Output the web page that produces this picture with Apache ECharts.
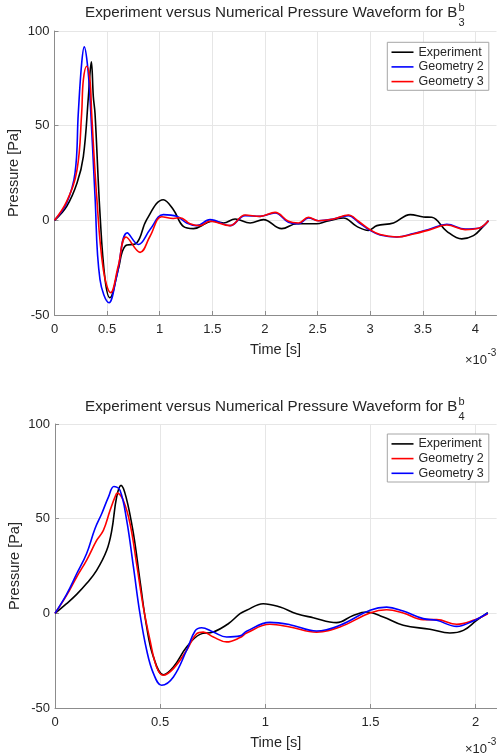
<!DOCTYPE html>
<html>
<head>
<meta charset="utf-8">
<script src="https://cdn.jsdelivr.net/npm/echarts@6/dist/echarts.min.js"></script>
<style>
html,body{margin:0;padding:0;background:#fff;}
#chart{width:497px;height:753px;}
</style>
</head>
<body>
<div id="chart"></div>
<script>
// ---- Data (time in units of 1e-3 s, pressure in Pa) ----
const topXTicks = [0, 0.5, 1, 1.5, 2, 2.5, 3, 3.5, 4];
const bottomXTicks = [0, 0.5, 1, 1.5, 2];
const seriesNames = ['Experiment', 'Geometry 2', 'Geometry 3'];

// Top panel (B3b)
const topExpT = [0, 0.116, 0.214, 0.274, 0.322, 0.337, 0.35, 0.369, 0.385, 0.432, 0.48, 0.527, 0.607, 0.67, 0.781, 0.876, 1.034, 1.13, 1.224, 1.32, 1.446, 1.5, 1.606, 1.716, 1.859, 1.985, 2.159, 2.302, 2.492, 2.587, 2.745, 2.872, 2.983, 3.063, 3.221, 3.38, 3.506, 3.585, 3.728, 3.87, 3.981, 4.061, 4.124];
const topExpP = [0, 7.4, 19.7, 33.7, 65.3, 77.6, 83.7, 65.3, 56.5, 3.8, -31, -40.9, -25.6, -13.7, -12, 0.4, 10.9, 5.6, -3.2, -4.4, -1.4, -0.5, -1.4, 0.7, -1.4, 0.4, -4.4, -1.8, -1.8, -0.5, 1.2, -3.2, -5.3, -2.8, -1.4, 3, 1.8, 1.6, -5.8, -9.8, -8.1, -4, -0.2];

const topG2T = [0, 0.116, 0.195, 0.226, 0.258, 0.283, 0.312, 0.337, 0.385, 0.432, 0.518, 0.591, 0.692, 0.797, 0.908, 1.034, 1.161, 1.256, 1.351, 1.478, 1.668, 1.811, 1.954, 2.096, 2.223, 2.318, 2.413, 2.508, 2.65, 2.792, 2.888, 2.998, 3.094, 3.252, 3.411, 3.569, 3.728, 3.902, 4.029, 4.124];
const topG2P = [0, 9.2, 24.9, 56.5, 82.8, 91.6, 82.8, 65.3, 12.6, -31.2, -43.5, -29.5, -6.6, -12.8, -4.9, 3, 2.1, -1.4, -2.8, 0.4, -2.8, 2.5, 2.1, 3.9, -1, -1.8, 1.2, -0.2, 0.7, 2.5, -1, -5.3, -7.7, -8.8, -7, -4.6, -2.1, -4.6, -4.2, -0.2];

const topG3T = [0, 0.116, 0.214, 0.258, 0.274, 0.306, 0.337, 0.353, 0.401, 0.464, 0.534, 0.607, 0.68, 0.813, 0.908, 1.019, 1.13, 1.193, 1.288, 1.383, 1.478, 1.668, 1.811, 1.954, 2.096, 2.223, 2.318, 2.413, 2.508, 2.65, 2.792, 2.888, 2.998, 3.094, 3.252, 3.411, 3.569, 3.728, 3.902, 4.029, 4.124];
const topG3P = [0, 10, 26.7, 56.5, 74.1, 81.4, 74.1, 56.5, 12.6, -26, -38.2, -23.9, -8.8, -16.9, -8.4, 1.9, 1, 1.4, -1.8, -2.8, -0.5, -2.8, 2.8, 2.1, 4.2, -0.5, -1.4, 1.6, -0.2, 0.7, 2.8, -0.5, -4.9, -7.5, -8.8, -7.2, -4.9, -2.5, -4.9, -4.2, -0.2];

// Bottom panel (B4b)
const botExpT = [0, 0.055, 0.103, 0.15, 0.198, 0.246, 0.27, 0.293, 0.314, 0.338, 0.373, 0.404, 0.436, 0.468, 0.515, 0.563, 0.626, 0.689, 0.753, 0.824, 0.88, 0.911, 0.99, 1.07, 1.149, 1.228, 1.339, 1.418, 1.482, 1.561, 1.656, 1.783, 1.878, 1.942, 2.005, 2.058];
const botExpP = [0, 5.1, 10, 15.7, 22.7, 33.3, 43.8, 61.4, 67.6, 61.4, 42.1, 17.4, -7.2, -23, -32.4, -28.3, -17.8, -11.1, -9.9, -5.5, -0.2, 1.6, 5.1, 3.3, -0.2, -2.3, -4.9, -1.1, 0.7, -1.9, -6.3, -8.4, -10.4, -9, -3.7, 0.4];

const botG2T = [0, 0.055, 0.103, 0.15, 0.198, 0.23, 0.262, 0.285, 0.296, 0.325, 0.357, 0.388, 0.42, 0.452, 0.483, 0.515, 0.563, 0.626, 0.674, 0.705, 0.753, 0.816, 0.88, 0.911, 1.022, 1.117, 1.244, 1.355, 1.498, 1.577, 1.656, 1.751, 1.815, 1.91, 1.989, 2.058];
const botG2P = [0, 9.5, 19.2, 28, 38.5, 43.8, 54.4, 61.4, 63.5, 59.6, 47.3, 26.2, 3.3, -14.3, -28.3, -32.7, -29.2, -19.5, -10.7, -9.9, -12.5, -15.1, -12.8, -10.4, -5.8, -7.2, -9.9, -7.2, 0.2, 1.9, 0.2, -3.3, -3.3, -5.8, -3.7, -0.2];

const botG3T = [0, 0.055, 0.103, 0.15, 0.19, 0.222, 0.254, 0.28, 0.309, 0.341, 0.373, 0.404, 0.436, 0.468, 0.507, 0.563, 0.626, 0.666, 0.697, 0.753, 0.816, 0.88, 0.911, 1.022, 1.117, 1.244, 1.355, 1.498, 1.577, 1.656, 1.751, 1.815, 1.91, 1.989, 2.058];
const botG3P = [0, 10, 20.9, 31.5, 44.7, 52.6, 61.4, 67, 65, 49.1, 24.5, -0.2, -19.5, -31.7, -38, -33.6, -19.5, -9.3, -7.6, -9.9, -12.5, -11.9, -9.5, -4.8, -6, -9.3, -6.3, 1.6, 3.3, 1.2, -2.8, -3.7, -6.9, -4, 0.2];

function pairs(t, p) { return t.map((v, i) => [v, p[i]]); }

const FONT = 'Liberation Sans';
const TXT = '#262626';
const AXC = '#8c8c8c';
const GRIDC = '#e6e6e6';

function xAxis(gi, max, ticks) {
  return {
    type: 'value', gridIndex: gi, min: 0, max: max, interval: 0.5,
    name: 'Time [s]', nameLocation: 'middle', nameGap: 27, nameMoveOverlap: false,
    nameTextStyle: { fontSize: 14.5, color: TXT, fontFamily: FONT },
    axisLine: { show: true, onZero: false, lineStyle: { color: AXC, width: 1 } },
    axisTick: { show: true, inside: true, length: 4, customValues: ticks, lineStyle: { color: AXC } },
    axisLabel: { customValues: ticks, formatter: v => String(v), fontSize: 13, color: TXT, margin: 8, fontFamily: FONT },
    splitLine: { show: true, lineStyle: { color: GRIDC, width: 1 } }
  };
}
function yAxis(gi) {
  return {
    type: 'value', gridIndex: gi, min: -50, max: 100, interval: 50,
    name: 'Pressure [Pa]', nameLocation: 'middle', nameGap: 33, nameRotate: 90, nameMoveOverlap: false,
    nameTextStyle: { fontSize: 14.5, color: TXT, fontFamily: FONT },
    axisLine: { show: true, onZero: false, lineStyle: { color: AXC, width: 1 } },
    axisTick: { show: true, inside: true, length: 4, lineStyle: { color: AXC } },
    axisLabel: { fontSize: 13, color: TXT, margin: 5, fontFamily: FONT },
    splitLine: { show: true, lineStyle: { color: GRIDC, width: 1 } }
  };
}
function line(name, gi, data, color) {
  return {
    type: 'line', name: name, xAxisIndex: gi, yAxisIndex: gi, data: data,
    smooth: 0.4, symbol: 'none', showSymbol: false,
    lineStyle: { color: color, width: 1.6 }, itemStyle: { color: color },
    emphasis: { disabled: true }
  };
}
function legend(top, colors) {
  return {
    show: true, orient: 'vertical', left: 387.3, top: top,
    padding: [3.4, 5, 2.2, 3.4], itemGap: 1.7, itemWidth: 22, itemHeight: 14,
    borderColor: '#a6a6a6', borderWidth: 1, borderRadius: 0, backgroundColor: '#fff',
    selectedMode: false,
    textStyle: { fontSize: 12.5, color: TXT, fontFamily: FONT },
    data: seriesNames.map((n, i) => ({
      name: n,
      itemStyle: { color: 'rgba(0,0,0,0)', borderColor: 'rgba(0,0,0,0)', borderWidth: 0, opacity: 0 },
      lineStyle: { color: colors[i], width: 1.6, opacity: 1 }
    }))
  };
}
function txt(x, y, text, size, align) {
  return { type: 'text', x: x, y: y, silent: true, z: 100,
    style: { text: text, fontSize: size, fontFamily: FONT, fill: TXT, align: align, verticalAlign: 'middle' } };
}

const chart = echarts.init(document.getElementById('chart'), null, { renderer: 'canvas' });
chart.setOption({
  animation: false,
  backgroundColor: '#fff',
  textStyle: { fontFamily: FONT },
  grid: [
    { left: 54.5, top: 31, width: 442, height: 284, outerBoundsMode: 'none', containLabel: false },
    { left: 55, top: 424, width: 441.6, height: 284, outerBoundsMode: 'none', containLabel: false }
  ],
  xAxis: [xAxis(0, 4.2, topXTicks), xAxis(1, 2.1, bottomXTicks)],
  yAxis: [yAxis(0), yAxis(1)],
  legend: [legend(42.3, ['#000000', '#0000ff', '#ff0000']), legend(434, ['#000000', '#ff0000', '#0000ff'])],
  series: [
    line('Experiment', 0, pairs(topExpT, topExpP), '#000000'),
    line('Geometry 2', 0, pairs(topG2T, topG2P), '#0000ff'),
    line('Geometry 3', 0, pairs(topG3T, topG3P), '#ff0000'),
    line('Experiment', 1, pairs(botExpT, botExpP), '#000000'),
    line('Geometry 2', 1, pairs(botG2T, botG2P), '#ff0000'),
    line('Geometry 3', 1, pairs(botG3T, botG3P), '#0000ff')
  ],
  graphic: [
    txt(457.5, 13.3, 'Experiment versus Numerical Pressure Waveform for B', 15.2, 'right'),
    txt(458.5, 8, 'b', 11, 'left'),
    txt(458.5, 22.5, '3', 11, 'left'),
    txt(457.5, 407, 'Experiment versus Numerical Pressure Waveform for B', 15.2, 'right'),
    txt(458.5, 401.5, 'b', 11, 'left'),
    txt(458.5, 416.5, '4', 11, 'left'),
    txt(487, 360.7, '\u00d710', 13, 'right'),
    txt(487.5, 353.3, '-3', 10, 'left'),
    txt(487, 749.5, '\u00d710', 13, 'right'),
    txt(487.5, 742.3, '-3', 10, 'left')
  ]
});
</script>
</body>
</html>
